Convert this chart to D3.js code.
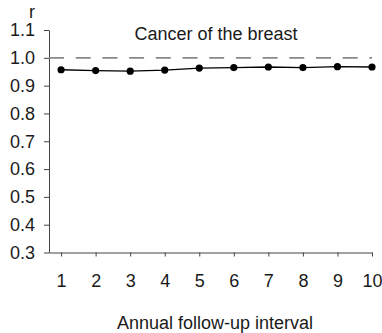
<!DOCTYPE html>
<html>
<head>
<meta charset="utf-8">
<script src="https://cdn.jsdelivr.net/npm/d3@7"></script>
<style>
  body { margin: 0; background: #fff; }
  svg text { font-family: Arial, "Liberation Sans", sans-serif; fill: #1a1a1a; }
</style>
</head>
<body>
<script>
// annual follow-up intervals and correlation r per interval
const intervals = [1, 2, 3, 4, 5, 6, 7, 8, 9, 10];
const rValues = [0.957, 0.954, 0.952, 0.956, 0.963, 0.965, 0.967, 0.965, 0.968, 0.967];
const yTicks = [0.3, 0.4, 0.5, 0.6, 0.7, 0.8, 0.9, 1.0, 1.1];
const refLine = 1.0;
const title = "Cancer of the breast";
const xTitle = "Annual follow-up interval";
const yTitle = "r";

const width = 382, height = 333;
const margin = {top: 30, right: 10, bottom: 80.5, left: 49};

const svg = d3.select("body").append("svg")
  .attr("width", width)
  .attr("height", height);

const x = d3.scaleLinear().domain([0.65, 10]).range([margin.left, width - margin.right]);
const y = d3.scaleLinear().domain([0.3, 1.1]).range([height - margin.bottom, margin.top]);

const axisColor = "#444";

// y axis
const yAxis = svg.append("g")
  .attr("transform", "translate(" + margin.left + ",0)")
  .call(d3.axisLeft(y).tickValues(yTicks).tickSize(5).tickSizeOuter(0).tickPadding(9)
    .tickFormat(d3.format(".1f")));
yAxis.select(".domain").attr("stroke", axisColor);
yAxis.selectAll(".tick line").attr("stroke", axisColor);
yAxis.selectAll(".tick text").style("font-size", "18px").attr("fill", "#1a1a1a");

// x axis
const xAxis = svg.append("g")
  .attr("transform", "translate(0," + y(0.3) + ")")
  .call(d3.axisBottom(x).tickValues(intervals).tickSize(4).tickSizeOuter(0).tickPadding(17.5)
    .tickFormat(d3.format("d")));
xAxis.select(".domain").attr("stroke", axisColor);
xAxis.selectAll(".tick line").attr("stroke", axisColor);
xAxis.selectAll(".tick text").style("font-size", "18px").attr("fill", "#1a1a1a");

// dashed reference line at r = 1
svg.append("line")
  .attr("x1", x(0.65)).attr("x2", x(10))
  .attr("y1", y(refLine)).attr("y2", y(refLine))
  .attr("stroke", "#888")
  .attr("stroke-width", 1.7)
  .attr("stroke-dasharray", "15,11.7");

const data = intervals.map((d, i) => ({k: d, r: rValues[i]}));

svg.append("path")
  .datum(data)
  .attr("fill", "none")
  .attr("stroke", "#000")
  .attr("stroke-width", 1.3)
  .attr("d", d3.line().x(d => x(d.k)).y(d => y(d.r)));

svg.selectAll(".dot").data(data).enter().append("circle")
  .attr("class", "dot")
  .attr("cx", d => x(d.k))
  .attr("cy", d => y(d.r))
  .attr("r", 3.6)
  .attr("fill", "#000");

svg.append("text")
  .attr("x", 216)
  .attr("y", 40)
  .attr("text-anchor", "middle")
  .style("font-size", "18px")
  .text(title);

svg.append("text")
  .attr("x", 215)
  .attr("y", 329)
  .attr("text-anchor", "middle")
  .style("font-size", "18px")
  .text(xTitle);

svg.append("text")
  .attr("x", 32)
  .attr("y", 18)
  .attr("text-anchor", "middle")
  .style("font-size", "18px")
  .text(yTitle);
</script>
</body>
</html>
